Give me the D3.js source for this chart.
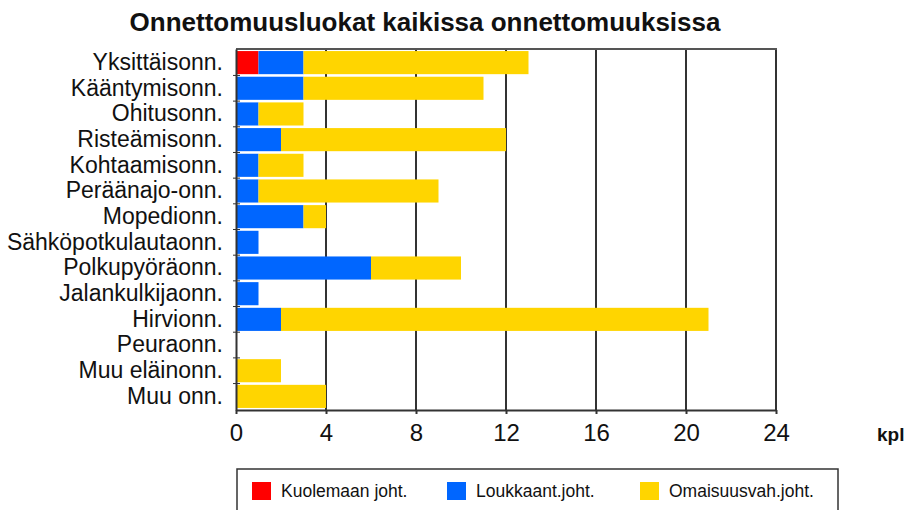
<!DOCTYPE html>
<html>
<head>
<meta charset="utf-8">
<script src="https://cdn.jsdelivr.net/npm/d3@7"></script>
<style>
  body { margin: 0; background: #fff; }
  text { font-family: "Liberation Sans", Arial, sans-serif; fill: #111; }
</style>
</head>
<body>
<div id="chart"></div>
<script>
var width = 907
var height = 510

// data
var categories = ["Yksittäisonn.", "Kääntymisonn.", "Ohitusonn.", "Risteämisonn.", "Kohtaamisonn.",
  "Peräänajo-onn.", "Mopedionn.", "Sähköpotkulautaonn.", "Polkupyöräonn.", "Jalankulkijaonn.",
  "Hirvionn.", "Peuraonn.", "Muu eläinonn.", "Muu onn."]
var kuolemaan = [1, 0, 0, 0, 0, 0, 0, 0, 0, 0, 0, 0, 0, 0]
var loukkaant = [2, 3, 1, 2, 1, 1, 3, 1, 6, 1, 2, 0, 0, 0]
var omaisuus  = [10, 8, 2, 10, 2, 8, 1, 0, 4, 0, 19, 0, 2, 4]
var seriesNames = ["Kuolemaan joht.", "Loukkaant.joht.", "Omaisuusvah.joht."]
var seriesColors = ["#ff0000", "#0066ff", "#ffd500"]
var xTicks = [0, 4, 8, 12, 16, 20, 24]

var svg = d3.select("#chart").append("svg")
    .attr("width", width)
    .attr("height", height)

var x = d3.scaleLinear().domain([0, 24]).range([236, 776])
var y = d3.scaleBand().domain(categories).range([49, 410]).paddingInner(0.1).paddingOuter(0.08)

var rows = categories.map(function(c, i) {
  return {cat: c, k: kuolemaan[i], l: loukkaant[i], o: omaisuus[i]}
})
var stack = d3.stack().keys(["k", "l", "o"])(rows)

// title
svg.append("text")
    .attr("x", 425)
    .attr("y", 31)
    .attr("text-anchor", "middle")
    .attr("font-size", "26px")
    .attr("font-weight", "bold")
    .text("Onnettomuusluokat kaikissa onnettomuuksissa")

// grid lines
svg.append("g")
    .selectAll("line")
    .data(xTicks.slice(1))
    .enter().append("line")
    .attr("x1", function(d) { return x(d) })
    .attr("x2", function(d) { return x(d) })
    .attr("y1", 49)
    .attr("y2", 410)
    .attr("stroke", "#333")
    .attr("stroke-width", 2)

// top border
svg.append("line")
    .attr("x1", 236).attr("x2", 777)
    .attr("y1", 49).attr("y2", 49)
    .attr("stroke", "#555").attr("stroke-width", 2)

// bars
svg.append("g").selectAll("g")
    .data(stack)
    .enter().append("g")
    .attr("fill", function(d, i) { return seriesColors[i] })
    .selectAll("rect")
    .data(function(d) { return d })
    .enter().append("rect")
    .attr("x", function(d) { return x(d[0]) })
    .attr("y", function(d) { return y(d.data.cat) })
    .attr("width", function(d) { return x(d[1]) - x(d[0]) })
    .attr("height", y.bandwidth())

// x axis
var xAxis = svg.append("g")
    .attr("transform", "translate(0,410)")
    .call(d3.axisBottom(x).tickValues(xTicks).tickSize(4).tickSizeOuter(0))
xAxis.select(".domain").attr("stroke", "#333").attr("stroke-width", 2)
xAxis.selectAll(".tick line").attr("stroke", "#333").attr("stroke-width", 2)
xAxis.selectAll("text")
    .attr("font-size", "24px")
    .attr("font-family", "Liberation Sans, Arial, sans-serif")
    .attr("fill", "#111")
    .attr("y", 14)

// y axis
var yAxis = svg.append("g")
    .attr("transform", "translate(236,0)")
    .call(d3.axisLeft(y).tickSize(0).tickPadding(13))
yAxis.select(".domain").attr("stroke", "#333").attr("stroke-width", 2)
yAxis.selectAll("text")
    .attr("font-size", "23px")
    .attr("font-family", "Liberation Sans, Arial, sans-serif")
    .attr("fill", "#111")

// small ticks between categories
var step = y.step()
svg.append("g").selectAll("line")
    .data(categories.slice(1))
    .enter().append("line")
    .attr("x1", 233).attr("x2", 240)
    .attr("y1", function(d) { return y(d) - step * y.paddingInner() / 2 })
    .attr("y2", function(d) { return y(d) - step * y.paddingInner() / 2 })
    .attr("stroke", "#333")
    .attr("stroke-width", 1)

// unit
svg.append("text")
    .attr("x", 877)
    .attr("y", 441)
    .attr("font-size", "19px")
    .attr("font-weight", "bold")
    .text("kpl")

// legend
var legend = svg.append("g")
svg.append("rect")
    .attr("x", 237).attr("y", 469)
    .attr("width", 601).attr("height", 50)
    .attr("fill", "none")
    .attr("stroke", "#333")
    .attr("stroke-width", 1.5)

var legendX = [252, 447, 640]
seriesNames.forEach(function(name, i) {
  legend.append("rect")
      .attr("x", legendX[i]).attr("y", 482)
      .attr("width", 19).attr("height", 18)
      .attr("fill", seriesColors[i])
  legend.append("text")
      .attr("x", legendX[i] + 29)
      .attr("y", 497)
      .attr("font-size", "17.5px")
      .text(name)
})
</script>
</body>
</html>
